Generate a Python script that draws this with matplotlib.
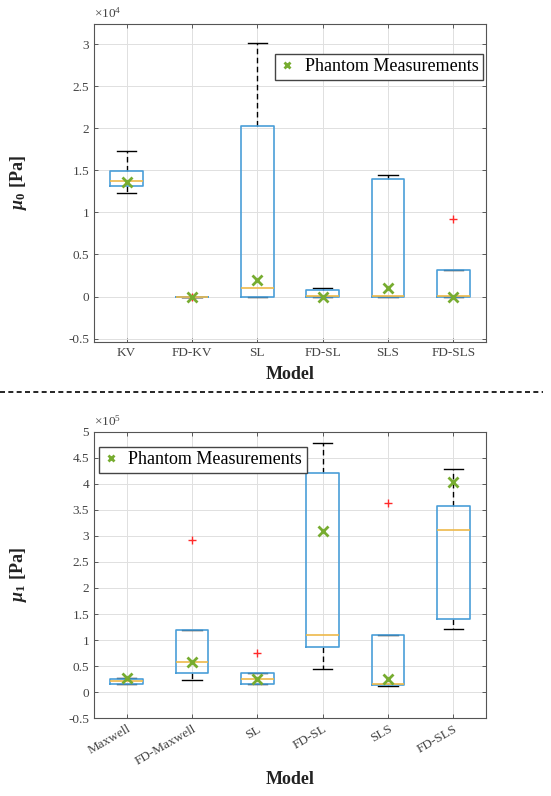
import matplotlib
matplotlib.use('Agg')
import matplotlib.pyplot as plt
from matplotlib.lines import Line2D

# 剪切模量 mu0（单位 1e4 Pa）
models_0 = ['KV', 'FD-KV', 'SL', 'FD-SL', 'SLS', 'FD-SLS']
mu0_whislo = [1.23, 0.0, 0.0, 0.0, 0.0, 0.0]
mu0_q1 = [1.31, 0.0, 0.0, 0.0, 0.0, 0.0]
mu0_med = [1.37, 0.0, 0.10, 0.005, 0.003, 0.002]
mu0_q3 = [1.49, 0.0, 2.03, 0.083, 1.40, 0.31]
mu0_whishi = [1.73, 0.0, 3.02, 0.10, 1.44, 0.31]
mu0_fliers = [[], [0.0], [], [], [], [0.92]]
mu0_phantom = [1.36, 0.0, 0.20, 0.0, 0.107, 0.0]

# 剪切模量 mu1（单位 1e5 Pa）
models_1 = ['Maxwell', 'FD-Maxwell', 'SL', 'FD-SL', 'SLS', 'FD-SLS']
mu1_whislo = [0.154, 0.236, 0.154, 0.447, 0.11, 1.215]
mu1_q1 = [0.154, 0.376, 0.154, 0.875, 0.14, 1.41]
mu1_med = [0.217, 0.58, 0.25, 1.09, 0.154, 3.11]
mu1_q3 = [0.25, 1.19, 0.376, 4.21, 1.10, 3.58]
mu1_whishi = [0.28, 1.19, 0.376, 4.78, 1.10, 4.28]
mu1_fliers = [[], [2.93], [0.76], [], [3.63], []]
mu1_phantom = [0.27, 0.58, 0.25, 3.10, 0.255, 4.03]

蓝 = '#4A9ED8'
黄 = '#EEB94A'
绿 = '#77AC30'
灰 = '#444444'

matplotlib.rcParams['font.family'] = ['Liberation Serif', 'DejaVu Serif']
matplotlib.rcParams['axes.unicode_minus'] = False
matplotlib.rcParams['mathtext.fontset'] = 'custom'
matplotlib.rcParams['mathtext.it'] = 'Liberation Serif:italic:bold'
matplotlib.rcParams['mathtext.rm'] = 'Liberation Serif:bold'
matplotlib.rcParams['mathtext.bf'] = 'Liberation Serif:bold'


def draw_box(ax, labels, whislo, q1, med, q3, whishi, fliers, phantom,
             ylim, yticks, exponent, ylabel, rotate):
    stats = []
    for i in range(len(labels)):
        stats.append(dict(whislo=whislo[i], q1=q1[i], med=med[i], q3=q3[i],
                          whishi=whishi[i], fliers=fliers[i], label=labels[i]))
    pos = list(range(1, len(labels) + 1))
    ax.bxp(stats, positions=pos, widths=0.5, capwidths=0.3, showfliers=True,
           boxprops=dict(color=蓝, lw=1.2, zorder=3),
           medianprops=dict(color=黄, lw=1.2, zorder=3.5),
           whiskerprops=dict(color='black', ls=(0, (4, 2.5)), lw=1.0, zorder=2),
           capprops=dict(color='black', lw=1.0, zorder=2),
           flierprops=dict(marker='+', markeredgecolor='#FF2A2A', markersize=5.5,
                           markeredgewidth=1.0, ls='none'))
    ax.plot(pos, phantom, 'x', color=绿, markersize=6.5, markeredgewidth=2,
            label='Phantom Measurements', zorder=5)

    ax.set_xlim(0.5, len(labels) + 0.5)
    ax.set_ylim(*ylim)
    ax.set_yticks(yticks)
    ax.set_yticklabels(['{:g}'.format(v) for v in yticks])
    ax.set_xticks(pos)
    if rotate:
        ax.set_xticklabels(labels, rotation=30, ha='right', rotation_mode='anchor')
    else:
        ax.set_xticklabels(labels)
    ax.grid(True, color='#e0e0e0', lw=0.7)
    ax.set_axisbelow(True)
    ax.tick_params(direction='in', top=True, right=True, length=3,
                   labelsize=9.5, labelcolor=灰, color=灰, width=0.6)
    for s in ax.spines.values():
        s.set_color('#555555')
        s.set_linewidth(0.8)

    ax.set_ylabel(ylabel, fontsize=13, fontweight='bold', color='#222222')
    ax.yaxis.set_label_coords(-0.165, 0.5)
    ax.set_xlabel('Model', fontsize=13, fontweight='bold', color='#222222')
    ax.text(0.0, 1.012, r'$\mathregular{\times10^{%d}}$' % exponent,
            transform=ax.transAxes, fontsize=9.5, color=灰, ha='left', va='bottom')


fig = plt.figure(figsize=(5.51, 7.96), dpi=100)

ax1 = fig.add_axes([0.1706, 0.5704, 0.7114, 0.3994])
draw_box(ax1, models_0, mu0_whislo, mu0_q1, mu0_med, mu0_q3, mu0_whishi,
         mu0_fliers, mu0_phantom, (-0.54, 3.24),
         [-0.5, 0, 0.5, 1, 1.5, 2, 2.5, 3], 4, r'$\mu_0$ [Pa]', False)
ax1.xaxis.set_label_coords(0.5, -0.075)
ax1.legend(loc='upper right', bbox_to_anchor=(0.992, 0.907), fontsize=13,
           fancybox=False, edgecolor='#444444', framealpha=1, markerscale=0.75,
           handlelength=0.9, handletextpad=0.5, borderpad=0.25, borderaxespad=0)

ax2 = fig.add_axes([0.1706, 0.0977, 0.7114, 0.3600])
draw_box(ax2, models_1, mu1_whislo, mu1_q1, mu1_med, mu1_q3, mu1_whishi,
         mu1_fliers, mu1_phantom, (-0.5, 5),
         [-0.5, 0, 0.5, 1, 1.5, 2, 2.5, 3, 3.5, 4, 4.5, 5], 5, r'$\mu_1$ [Pa]', True)
ax2.xaxis.set_label_coords(0.5, -0.185)
ax2.legend(loc='upper left', bbox_to_anchor=(0.012, 0.947), fontsize=13,
           fancybox=False, edgecolor='#444444', framealpha=1, markerscale=0.75,
           handlelength=0.9, handletextpad=0.5, borderpad=0.25, borderaxespad=0)

# 上下两图之间的分隔虚线
fig.add_artist(Line2D([0.0, 0.985], [0.5075, 0.5075], transform=fig.transFigure,
                      color='black', ls=(0, (3, 2)), lw=1.2))

fig.savefig('out.png', dpi=100)
